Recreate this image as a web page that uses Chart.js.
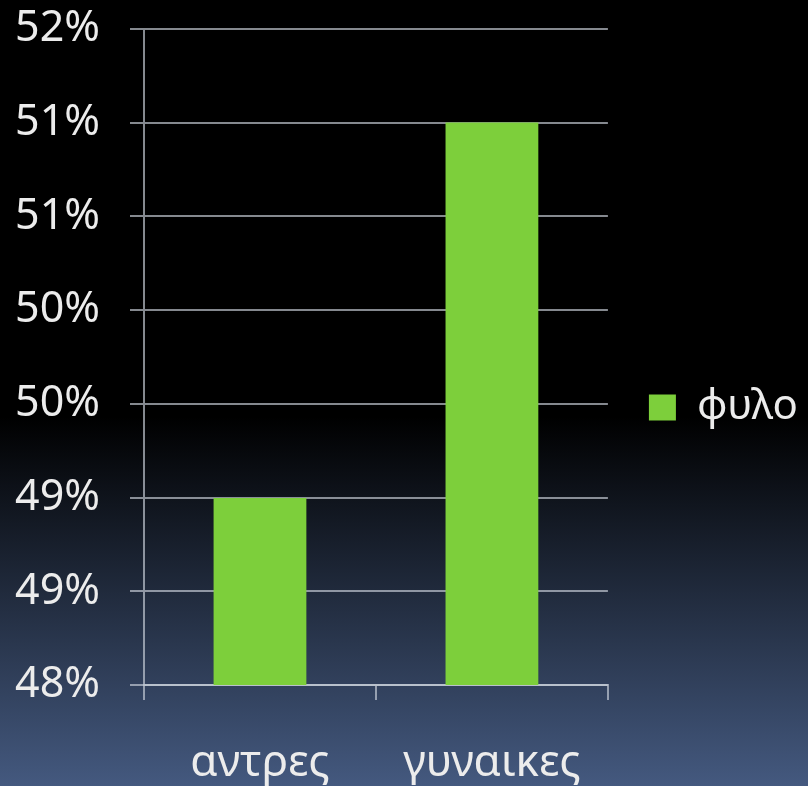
<!DOCTYPE html>
<html>
<head>
<meta charset="utf-8">
<script src="https://cdn.jsdelivr.net/npm/chart.js@4/dist/chart.umd.min.js"></script>
<style>
  html, body {
    margin: 0;
    padding: 0;
  }
  body {
    width: 808px;
    height: 786px;
    background: linear-gradient(to bottom, #000 0%, #000 53%, #44597f 100%);
  }
  canvas { display: block; }
</style>
</head>
<body>
<canvas id="chart" width="808" height="786"></canvas>
<script>
const categories = ['αντρες', 'γυναικες']
const seriesName = 'φυλο'
const values = [49.14, 51.43]
const yTickValues = [48, 48.571, 49.143, 49.714, 50.286, 50.857, 51.429, 52]
const yTickLabels = ['48%', '49%', '49%', '50%', '50%', '51%', '51%', '52%']

const fontFamily = '"Noto Sans", "Open Sans", sans-serif'
const textColor = 'rgb(236, 236, 236)'
const lineColor = 'rgba(205, 210, 220, 0.65)'

const ctx = document.getElementById('chart').getContext('2d')

new Chart(ctx, {
  type: 'bar',
  data: {
    labels: categories,
    datasets: [{
      label: seriesName,
      data: values,
      backgroundColor: 'rgb(125, 207, 59)',
      borderWidth: 0,
      barPercentage: 0.4,
      categoryPercentage: 1
    }]
  },
  options: {
    responsive: false,
    animation: false,
    layout: {
      padding: { top: 29, right: 0, bottom: 0, left: 0 }
    },
    plugins: {
      tooltip: { enabled: false },
      legend: {
        position: 'right',
        align: 'center',
        labels: {
          color: textColor,
          font: { family: fontFamily, size: 42 },
          boxWidth: 27,
          boxHeight: 26,
          padding: 41
        }
      }
    },
    scales: {
      x: {
        offset: true,
        grid: {
          drawOnChartArea: false,
          drawTicks: true,
          tickLength: 15,
          color: lineColor,
          lineWidth: 2
        },
        border: { color: lineColor, width: 2 },
        ticks: {
          color: textColor,
          font: { family: fontFamily, size: 44 },
          padding: 37,
          maxRotation: 0
        },
        afterFit(scale) { scale.height = 101 }
      },
      y: {
        min: 48,
        max: 52,
        afterBuildTicks(scale) {
          scale.ticks = yTickValues.map(v => ({ value: v }))
        },
        grid: {
          color: lineColor,
          lineWidth: 2,
          tickLength: 14
        },
        border: { color: lineColor, width: 2 },
        ticks: {
          autoSkip: false,
          color: textColor,
          font: { family: fontFamily, size: 43 },
          padding: 30,
          callback: (value, index) => yTickLabels[index]
        },
        afterFit(scale) {
          scale.width = 144
          scale.paddingTop = 0
          scale.paddingBottom = 0
        }
      }
    }
  }
})
</script>
</body>
</html>
